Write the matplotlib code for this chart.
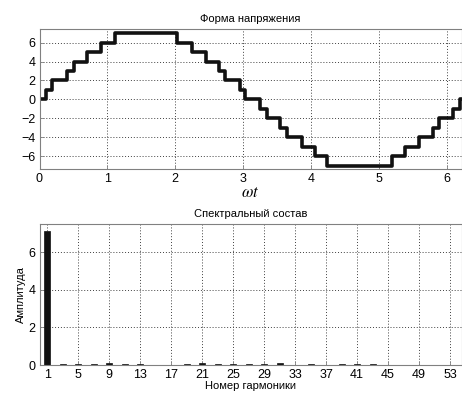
import matplotlib
matplotlib.use("Agg")
import matplotlib.pyplot as plt
import numpy as np

plt.rcParams['font.family'] = ['Liberation Sans', 'DejaVu Sans']

# Waveform: switching instants (rad) and levels held after each instant
switch_times = [0, 0.096, 0.19, 0.41, 0.51, 0.70, 0.91, 1.11, 2.03, 2.24, 2.45, 2.64,
                2.74, 2.95, 3.03, 3.25, 3.35, 3.55, 3.65, 3.86, 4.06, 4.24, 5.19, 5.38,
                5.59, 5.79, 5.88, 6.09, 6.19, 6.22]
levels = [0, 1, 2, 3, 4, 5, 6, 7, 6, 5, 4, 3, 2, 1, 0, -1, -2, -3, -4, -5, -6, -7,
          -6, -5, -4, -3, -2, -1, 0, 0]

# Spectrum (odd harmonics)
harmonics = [1, 3, 5, 7, 9, 11, 13, 15, 17, 19, 21, 23, 25, 27, 29, 31, 33, 35, 37,
             39, 41, 43, 45, 47, 49, 51, 53]
amplitudes = [7.15, 0.04, 0.05, 0.05, 0.10, 0.04, 0.03, 0.0, 0.0, 0.07, 0.08, 0.05,
              0.05, 0.05, 0.04, 0.08, 0.0, 0.05, 0.01, 0.04, 0.04, 0.04, 0.01, 0.01,
              0.01, 0.02, 0.01]
harm_ticks = [1, 5, 9, 13, 17, 21, 25, 29, 33, 37, 41, 45, 49, 53]

fig = plt.figure(figsize=(4.62, 3.94), dpi=100)
W, H = 462, 394

def add_ax(l, t, r, b):
    return fig.add_axes([l / W, 1 - b / H, (r - l) / W, (b - t) / H])

ax1 = add_ax(39.5, 29, 461.7, 169.3)
ax2 = add_ax(39.5, 224, 461.7, 365)

def style(ax):
    for s in ax.spines.values():
        s.set_color('#808080')
        s.set_linewidth(0.8)
    ax.tick_params(direction='in', length=3, width=0.6, colors='#808080',
                   labelcolor='black', labelsize=9, pad=3)
    ax.grid(True, linestyle=(0, (1, 2)), color='#404040', linewidth=0.7)
    ax.set_axisbelow(True)

ax1.step(switch_times, levels, where='post', color='#111111', linewidth=2.6)
ax1.set_xlim(0, 6.22)
ax1.set_ylim(-7.4, 7.45)
ax1.set_xticks([0, 1, 2, 3, 4, 5, 6])
ax1.set_yticks([-6, -4, -2, 0, 2, 4, 6])
style(ax1)
ax1.set_title('Форма напряжения', fontsize=8, pad=5)
ax1.set_xlabel(r'$\omega t$', fontsize=12, labelpad=0, math_fontfamily='stix')

ax2.bar(harmonics, amplitudes, width=0.8, color='#111111', edgecolor='#111111',
        linewidth=0.5)
ax2.set_xlim(0, 54.5)
ax2.set_ylim(0, 7.5)
ax2.set_xticks(harm_ticks)
ax2.set_yticks([0, 2, 4, 6])
style(ax2)
ax2.set_title('Спектральный состав', fontsize=8, pad=5)
ax2.set_xlabel('Номер гармоники', fontsize=8, labelpad=0)
ax2.set_ylabel('Амплитуда', fontsize=8, labelpad=2)

fig.savefig('out.png', dpi=100)
